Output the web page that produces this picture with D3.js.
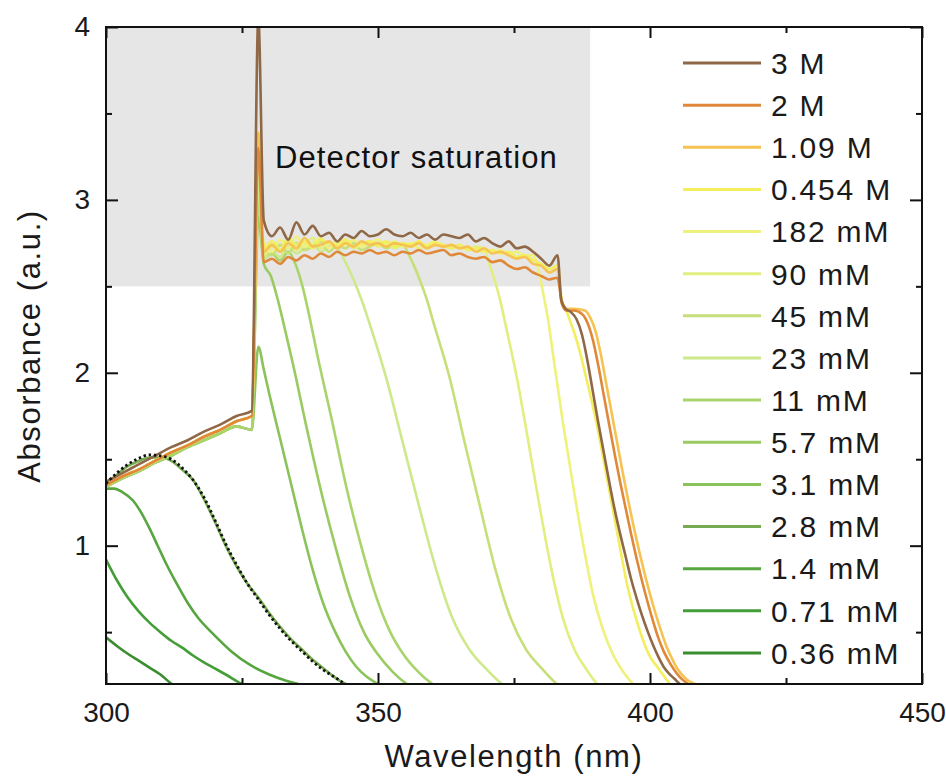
<!DOCTYPE html>
<html><head><meta charset="utf-8">
<script src="https://cdn.jsdelivr.net/npm/d3@7"></script>
<style>body{margin:0;background:#fff}svg{display:block}</style>
</head><body>
<svg id="chart" width="946" height="776"></svg>
<script>
// ---------- data ----------
const seriesLabels = ["3 M","2 M","1.09 M","0.454 M","182 mM","90 mM","45 mM","23 mM","11 mM","5.7 mM","3.1 mM","2.8 mM","1.4 mM","0.71 mM","0.36 mM"];
const seriesColors = ["#8f6847","#e0883a","#f6c352","#f2ee5e","#eef27c","#e2ee80","#c6df78","#cde98c","#a9d46c","#9acb62","#8ac35a","#76ab52","#58a640","#449e38","#3a8e30"];

const xTicks = [300,350,400,450];
const xMinor = [325,375,425];
const yTicks = [1,2,3,4];
const yMinor = [0.5,1.5,2.5,3.5];

// saturation-limited ramp below the 328 nm artefact
const rampW = [300,303,306,309,312,315,318,321,324,326.8];
const rampBrown = [1.37,1.42,1.47,1.52,1.57,1.61,1.66,1.70,1.75,1.78];
const rampStd   = [1.35,1.40,1.44,1.49,1.54,1.58,1.63,1.67,1.72,1.75];
const rampGreen = [1.34,1.39,1.43,1.48,1.52,1.57,1.61,1.65,1.69,1.67];
const spikeW = 328;
const spikePeaks = [4.05,3.30,3.39,3.39,3.35,3.30,3.25,3.10,3.00,2.90,2.15];

// saturated plateau (noisy)
const plateauW = [329,330.5,332,333.5,335,336.5,338,339.5,341,342.5,344,345.5,347,348.5,350,351.5,353,354.5,356,357.5,359,360.5,362,363.5,365,366.5,368,369.5,371,372.5,374,375.5,377,378.5,380,381.5,383];
const plateau3M   = [2.88,2.79,2.84,2.77,2.87,2.80,2.85,2.79,2.81,2.76,2.80,2.78,2.82,2.79,2.80,2.83,2.80,2.79,2.81,2.78,2.80,2.77,2.80,2.79,2.78,2.80,2.76,2.78,2.75,2.73,2.76,2.72,2.73,2.70,2.66,2.62,2.68];
const plateau2M   = [2.64,2.66,2.63,2.67,2.65,2.68,2.66,2.69,2.67,2.70,2.68,2.70,2.69,2.71,2.69,2.70,2.68,2.70,2.69,2.71,2.69,2.70,2.71,2.68,2.69,2.67,2.66,2.67,2.64,2.65,2.62,2.60,2.61,2.58,2.56,2.54,2.55];
const plateau109M = [2.70,2.74,2.70,2.75,2.72,2.78,2.73,2.74,2.76,2.72,2.75,2.73,2.76,2.74,2.75,2.73,2.75,2.74,2.73,2.75,2.72,2.74,2.73,2.74,2.72,2.73,2.70,2.72,2.69,2.70,2.68,2.66,2.67,2.63,2.62,2.58,2.60];
const plateau454  = [2.72,2.76,2.71,2.78,2.74,2.76,2.72,2.77,2.75,2.74,2.77,2.73,2.75,2.76,2.74,2.76,2.73,2.75,2.74,2.76,2.73,2.75,2.74,2.72,2.74,2.71,2.72,2.70,2.71,2.69,2.70,2.67,2.68,2.65,2.63,2.60,2.62];
const plateau182  = [2.74,2.70,2.77,2.72,2.79,2.73,2.75,2.78,2.72,2.76,2.74,2.77,2.73,2.75,2.77,2.74,2.76,2.73,2.75,2.72,2.74,2.76,2.73,2.74,2.72,2.73,2.71,2.72,2.70,2.71,2.69,2.70,2.68,2.68];
const plateau90   = [2.68,2.73,2.70,2.76,2.71,2.74,2.78,2.72,2.75,2.73,2.77,2.72,2.74,2.76,2.73,2.75,2.72,2.74,2.73,2.75,2.72,2.74,2.73,2.72,2.74,2.71,2.73,2.72];
const plateau45   = [2.70,2.68,2.74,2.69,2.75,2.71,2.73,2.76,2.70,2.74,2.72,2.75,2.71,2.73,2.75,2.72,2.74,2.74];
const plateau23   = [2.66,2.70,2.67,2.73,2.69,2.72,2.75,2.70,2.73,2.72];
const plateau11   = [2.66,2.69,2.65,2.70];
const plateau57   = [2.63];
const plateau31   = [];

// fall-off edges [wavelength, absorbance]
const tail3M   = [[383.7,2.42],[384.5,2.37],[385.5,2.35],[386.5,2.31],[387.5,2.22],[388.5,2.07],[389.5,1.89],[390.5,1.71],[391.5,1.54],[392.5,1.37],[393.5,1.21],[394.5,1.07],[395.5,0.94],[396.5,0.81],[397.5,0.70],[398.5,0.60],[399.5,0.51],[400.5,0.43],[401.5,0.36],[402.5,0.30],[403.5,0.26],[404.5,0.23],[405.5,0.20],[407,0.17]];
const tail2M   = [[383.8,2.40],[384.6,2.36],[386,2.36],[387.5,2.34],[388.5,2.29],[389.5,2.19],[390.5,2.04],[391.5,1.87],[392.5,1.70],[393.5,1.53],[394.5,1.37],[395.5,1.22],[396.5,1.07],[397.5,0.93],[398.5,0.80],[399.5,0.68],[400.5,0.57],[401.5,0.47],[402.5,0.39],[403.5,0.33],[404.5,0.28],[405.5,0.24],[407,0.20],[409,0.16]];
const tail109M = [[383.8,2.40],[384.6,2.37],[386,2.37],[388,2.36],[389,2.32],[390,2.24],[391,2.10],[392,1.93],[393,1.76],[394,1.59],[395,1.42],[396,1.26],[397,1.11],[398,0.97],[399,0.84],[400,0.72],[401,0.61],[402,0.51],[403,0.42],[404,0.35],[405,0.29],[406,0.25],[407,0.22],[408.3,0.20],[410,0.17]];
const tail454  = [[383.8,2.42],[384.5,2.37],[385.3,2.30],[386.2,2.22],[387.2,2.11],[388.2,1.98],[390.1,1.72],[392.1,1.39],[394.0,1.07],[395.9,0.76],[397.9,0.53],[399.8,0.37],[401.8,0.28],[403.7,0.20],[405.6,0.16]];
const tail182  = [[379.4,2.61],[380.3,2.47],[381.3,2.30],[382.2,2.10],[384.0,1.71],[385.9,1.34],[387.7,1.01],[389.5,0.72],[391.4,0.51],[393.2,0.37],[395.1,0.27],[396.9,0.20],[398.7,0.155]];
const tail90   = [[370.35,2.64],[371.4,2.54],[372.45,2.42],[373.5,2.27],[375.6,1.96],[377.7,1.59],[379.8,1.21],[381.9,0.86],[384,0.58],[386.1,0.40],[388.2,0.29],[390.3,0.20],[392.4,0.15]];
const tail45   = [[356.0,2.66],[357.4,2.56],[358.8,2.44],[360.3,2.28],[363.1,1.98],[365.9,1.60],[368.8,1.22],[371.6,0.86],[374.4,0.58],[377.2,0.40],[380.1,0.29],[382.9,0.20],[385.7,0.15]];
const tail23   = [[344.0,2.64],[345.5,2.54],[347.0,2.42],[348.6,2.27],[351.6,1.96],[354.6,1.59],[357.7,1.21],[360.7,0.86],[363.7,0.58],[366.8,0.40],[369.8,0.29],[372.8,0.20],[375.8,0.15]];
const tail11   = [[334.8,2.63],[336.2,2.49],[337.5,2.31],[338.8,2.11],[341.5,1.73],[344.1,1.35],[346.8,1.01],[349.4,0.73],[352.1,0.51],[354.7,0.37],[357.4,0.27],[360,0.20],[362.6,0.155]];
const tail57   = [[330.3,2.56],[331.6,2.42],[332.9,2.25],[334.3,2.06],[336.9,1.68],[339.5,1.32],[342.2,0.99],[344.8,0.71],[347.4,0.50],[350,0.37],[352.7,0.27],[355.3,0.20],[357.9,0.156]];
const tail31   = [[329,2.02],[330,1.88],[332,1.62],[334,1.36],[336,1.10],[338,0.86],[340,0.66],[342,0.51],[344,0.39],[346,0.30],[348,0.24],[350,0.20],[352,0.16]];

// low concentrations (full spectra)
const spec28  = [[300,1.35],[302,1.41],[304,1.46],[306,1.49],[308,1.51],[310,1.51],[312,1.49],[314,1.44],[316,1.38],[318,1.27],[320,1.14],[322,1.00],[324,0.88],[326,0.78],[328,0.70],[330,0.61],[332,0.53],[334,0.46],[336,0.40],[338,0.34],[340,0.29],[342,0.24],[344,0.20],[346,0.17]];
const spec14  = [[300,1.33],[301.5,1.33],[303,1.31],[305,1.26],[306.5,1.19],[308,1.10],[309.5,1.00],[311,0.90],[313,0.78],[315,0.67],[317,0.58],[320,0.48],[323,0.39],[326.5,0.31],[330,0.255],[333,0.22],[335.3,0.20],[338,0.18]];
const spec071 = [[300,0.92],[302,0.80],[304,0.70],[306,0.62],[308,0.555],[310,0.50],[312,0.45],[314,0.41],[316,0.365],[318,0.325],[320,0.29],[322,0.255],[325,0.20],[328,0.16]];
const spec036 = [[300,0.47],[302,0.42],[304,0.375],[306,0.335],[308,0.295],[310,0.255],[312.1,0.20],[314,0.17]];
// fitted curve (black dotted)
const fit28   = [[300,1.36],[302,1.42],[304,1.47],[306,1.505],[308,1.525],[310,1.52],[312,1.50],[314,1.45],[316,1.38],[318,1.28],[320,1.15],[322,1.01],[324,0.89],[326,0.78],[328,0.69],[330,0.60],[332,0.52],[334,0.45],[336,0.39],[338,0.33],[340,0.28],[342,0.24],[344,0.20],[346,0.17]];

const satRegion = {x0:300, x1:389, y0:2.5, y1:4};

// ---------- build series ----------
function build(ramp, peak, plat, tail){
  const pts = rampW.map((w,i)=>[w, ramp[i]]);
  pts.push([spikeW, peak]);
  plat.forEach((v,i)=>pts.push([plateauW[i], v]));
  return pts.concat(tail);
}
const seriesData = [
  build(rampBrown, spikePeaks[0], plateau3M, tail3M),
  build(rampStd, spikePeaks[1], plateau2M, tail2M),
  build(rampStd, spikePeaks[2], plateau109M, tail109M),
  build(rampStd, spikePeaks[3], plateau454, tail454),
  build(rampStd, spikePeaks[4], plateau182, tail182),
  build(rampStd, spikePeaks[5], plateau90, tail90),
  build(rampStd, spikePeaks[6], plateau45, tail45),
  build(rampStd, spikePeaks[7], plateau23, tail23),
  build(rampGreen, spikePeaks[8], plateau11, tail11),
  build(rampGreen, spikePeaks[9], plateau57, tail57),
  build(rampGreen, spikePeaks[10], plateau31, tail31),
  spec28, spec14, spec071, spec036
];

// ---------- drawing ----------
const svg = d3.select("#chart");
const m = {l:106, r:924, t:27, b:684};
const x = d3.scaleLinear().domain([300,450]).range([m.l, m.r-2]);
const y = d3.scaleLinear().domain([0.2,4]).range([m.b, m.t]);
const FONT = "'Liberation Sans', Arial, Helvetica, sans-serif";

svg.append("defs").append("clipPath").attr("id","plotclip")
  .append("rect").attr("x",m.l).attr("y",m.t).attr("width",x(450)-m.l).attr("height",m.b-m.t);

// saturation shading
svg.append("rect")
  .attr("x", x(satRegion.x0)).attr("y", y(satRegion.y1))
  .attr("width", x(satRegion.x1)-x(satRegion.x0))
  .attr("height", y(satRegion.y0)-y(satRegion.y1))
  .attr("fill", "#e6e6e6");

svg.append("text").attr("x", 275).attr("y", 168)
  .attr("font-family", FONT).attr("font-size", 31).attr("letter-spacing", 1.1)
  .attr("fill", "#111").text("Detector saturation");

const line = d3.line().x(d=>x(d[0])).y(d=>y(d[1])).curve(d3.curveMonotoneX);
const g = svg.append("g").attr("clip-path","url(#plotclip)");

for (let i = seriesData.length-1; i >= 0; i--) {
  g.append("path").datum(seriesData[i])
    .attr("d", line).attr("fill","none")
    .attr("stroke", seriesColors[i]).attr("stroke-width", 2.6)
    .attr("stroke-linejoin","round");
}
g.append("path").datum(fit28).attr("d", line).attr("fill","none")
  .attr("stroke","#111").attr("stroke-width",2.8).attr("stroke-dasharray","2.4,2.8");

// axes
const axB = d3.axisBottom(x).tickValues(xTicks).tickSize(-11).tickPadding(18).tickFormat(d3.format("d"));
const axBm = d3.axisBottom(x).tickValues(xMinor).tickSize(-6).tickFormat("");
const axT = d3.axisTop(x).tickValues(xTicks).tickSize(-11).tickFormat("");
const axTm = d3.axisTop(x).tickValues(xMinor).tickSize(-6).tickFormat("");
const axL = d3.axisLeft(y).tickValues(yTicks).tickSize(-12).tickPadding(16).tickFormat(d3.format("d"));
const axLm = d3.axisLeft(y).tickValues(yMinor).tickSize(-6).tickFormat("");
const axR = d3.axisRight(y).tickValues(yTicks).tickSize(-12).tickFormat("");
const axRm = d3.axisRight(y).tickValues(yMinor).tickSize(-6).tickFormat("");

function place(ax, tr){
  const gg = svg.append("g").attr("transform", tr).call(ax);
  gg.select(".domain").remove();
  gg.selectAll(".tick line").attr("stroke","#111").attr("stroke-width",2);
  gg.selectAll("text").attr("font-family",FONT).attr("font-size",28).attr("fill","#1a1a1a");
  return gg;
}
place(axB, `translate(0,${m.b})`);
place(axBm, `translate(0,${m.b})`);
place(axT, `translate(0,${m.t})`);
place(axTm, `translate(0,${m.t})`);
place(axL, `translate(${m.l},0)`);
place(axLm, `translate(${m.l},0)`);
place(axR, `translate(${x(450)},0)`);
place(axRm, `translate(${x(450)},0)`);

// frame
svg.append("rect").attr("x",m.l).attr("y",m.t).attr("width",x(450)-m.l).attr("height",m.b-m.t)
  .attr("fill","none").attr("stroke","#111").attr("stroke-width",2);

// axis titles
svg.append("text").attr("x", 514).attr("y", 767).attr("text-anchor","middle")
  .attr("font-family",FONT).attr("font-size",31).attr("letter-spacing",1.6).attr("fill","#1a1a1a")
  .text("Wavelength (nm)");
svg.append("text").attr("transform","translate(40,346) rotate(-90)").attr("text-anchor","middle")
  .attr("font-family",FONT).attr("font-size",31).attr("letter-spacing",1.6).attr("fill","#1a1a1a")
  .text("Absorbance (a.u.)");

// legend
const lg = svg.append("g");
seriesLabels.forEach((lab,i)=>{
  const yy = 63 + i*42.14;
  lg.append("line").attr("x1",683).attr("x2",761).attr("y1",yy).attr("y2",yy)
    .attr("stroke",seriesColors[i]).attr("stroke-width",3);
  lg.append("text").attr("x",771).attr("y",yy).attr("dy","0.36em")
    .attr("font-family",FONT).attr("font-size",30).attr("letter-spacing",1.8).attr("fill","#1a1a1a")
    .text(lab);
});
</script>
</body></html>
